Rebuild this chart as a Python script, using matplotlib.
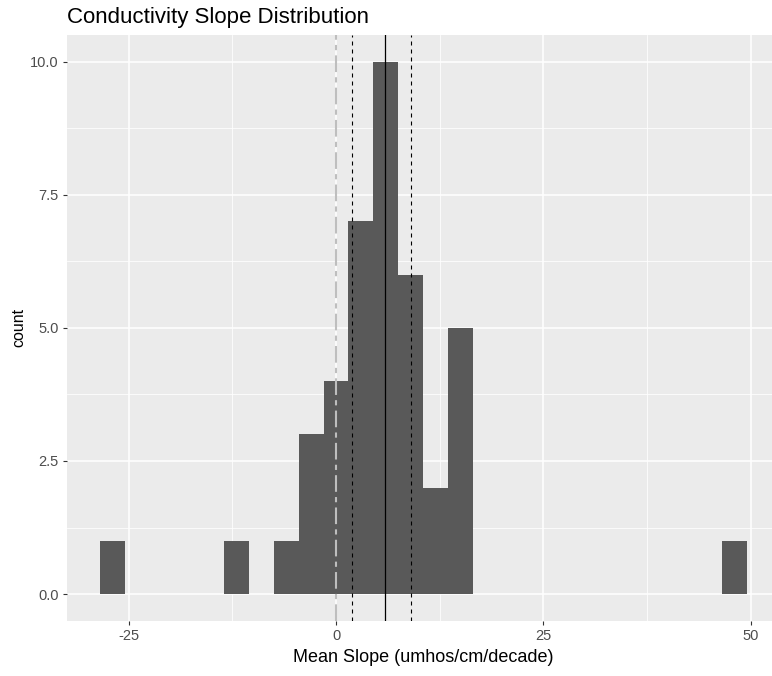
import matplotlib.pyplot as plt
from matplotlib.ticker import FixedLocator

# Histogram of per-site conductivity slopes, bins 3 units wide
bin_centers = [-27, -12, -6, -3, 0, 3, 6, 9, 12, 15, 48]
bin_counts = [1, 1, 1, 3, 4, 7, 10, 6, 2, 5, 1]
bin_width = 3.0

zero_ref = 0.0
slope_mean = 5.9
slope_ci = [1.9, 9.05]

x_ticks = [-25, 0, 25, 50]
x_minor = [-12.5, 12.5, 37.5]
y_ticks = [0.0, 2.5, 5.0, 7.5, 10.0]
y_minor = [1.25, 3.75, 6.25, 8.75]

plt.rcParams['font.family'] = ['Liberation Sans', 'DejaVu Sans']

fig = plt.figure(figsize=(7.72, 6.76), dpi=100)
ax = fig.add_axes([67.3 / 772, 55.3 / 676, (779 - 67.3) / 772, (620.7 - 35) / 676])

ax.set_facecolor('#EBEBEB')
for s in ax.spines.values():
    s.set_visible(False)

ax.xaxis.set_major_locator(FixedLocator(x_ticks))
ax.xaxis.set_minor_locator(FixedLocator(x_minor))
ax.yaxis.set_major_locator(FixedLocator(y_ticks))
ax.yaxis.set_minor_locator(FixedLocator(y_minor))
ax.set_yticklabels([f"{v:.1f}" for v in y_ticks])
ax.set_xticklabels([str(v) for v in x_ticks])

ax.grid(which='major', color='white', linewidth=1.1)
ax.grid(which='minor', color='white', linewidth=0.55)
ax.set_axisbelow(True)

ax.tick_params(which='major', length=3, width=0.8, color='#333333',
               labelcolor='#4D4D4D', labelsize=10.5, pad=3)
ax.tick_params(which='minor', length=0)

ax.bar(bin_centers, bin_counts, width=bin_width, color='#595959', zorder=2)

ax.axvline(zero_ref, color='#BEBEBE', linewidth=1.5,
           linestyle=(0, (8, 2.5, 2.5, 2.5)), zorder=3)
ax.axvline(slope_mean, color='black', linewidth=0.9, zorder=3)
for v in slope_ci:
    ax.axvline(v, color='black', linewidth=0.8,
               linestyle=(0, (3.6, 3.6)), zorder=3)

ax.set_xlim(-32.4, 53.4)
ax.set_ylim(-0.5, 10.5)

ax.set_xlabel('Mean Slope (umhos/cm/decade)', fontsize=13, color='black', labelpad=4)
ax.set_ylabel('count', fontsize=11.5, color='black', labelpad=3)
ax.set_title('Conductivity Slope Distribution', loc='left', fontsize=16,
             color='black', pad=8.5)

fig.savefig('out.png', dpi=100)
